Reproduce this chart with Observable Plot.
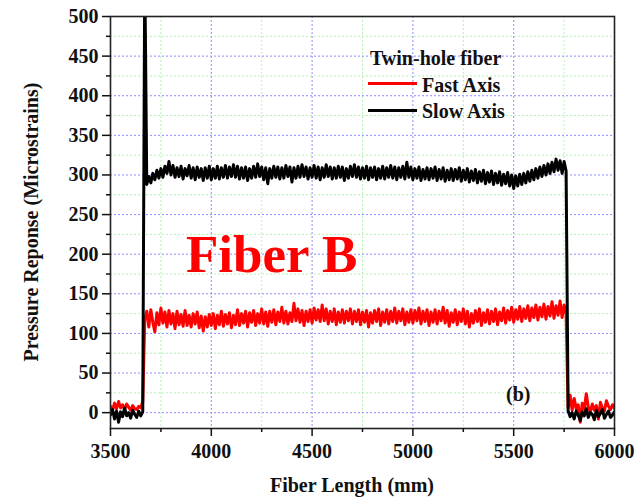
<!DOCTYPE html>
<html>
<head>
<meta charset="utf-8">
<script src="https://cdn.jsdelivr.net/npm/d3@7"></script>
<script src="https://cdn.jsdelivr.net/npm/@observablehq/plot@0.6"></script>
<style>
  html, body { margin: 0; padding: 0; background: white; }
  #wrap { position: relative; width: 643px; height: 499px; overflow: hidden; font-family: "Liberation Serif", "Times New Roman", serif; font-weight: bold; }
  #wrap svg { position: absolute; left: 0; top: 0; }
  .t { position: absolute; line-height: 1; white-space: nowrap; color: #111; }
  .sw { position: absolute; height: 3px; }
</style>
</head>
<body>
<div id="wrap"></div>
<script>
// Fiber length samples (mm)
const fiberLength = [
  3500,3510,3520,3530,3540,3550,3560,3570,3580,3590,
  3600,3610,3620,3630,3640,3650,3660,3670,3680,3690,
  3700,3710,3720,3730,3740,3750,3760,3770,3780,3790,
  3800,3810,3820,3830,3840,3850,3860,3870,3880,3890,
  3900,3910,3920,3930,3940,3950,3960,3970,3980,3990,
  4000,4010,4020,4030,4040,4050,4060,4070,4080,4090,
  4100,4110,4120,4130,4140,4150,4160,4170,4180,4190,
  4200,4210,4220,4230,4240,4250,4260,4270,4280,4290,
  4300,4310,4320,4330,4340,4350,4360,4370,4380,4390,
  4400,4410,4420,4430,4440,4450,4460,4470,4480,4490,
  4500,4510,4520,4530,4540,4550,4560,4570,4580,4590,
  4600,4610,4620,4630,4640,4650,4660,4670,4680,4690,
  4700,4710,4720,4730,4740,4750,4760,4770,4780,4790,
  4800,4810,4820,4830,4840,4850,4860,4870,4880,4890,
  4900,4910,4920,4930,4940,4950,4960,4970,4980,4990,
  5000,5010,5020,5030,5040,5050,5060,5070,5080,5090,
  5100,5110,5120,5130,5140,5150,5160,5170,5180,5190,
  5200,5210,5220,5230,5240,5250,5260,5270,5280,5290,
  5300,5310,5320,5330,5340,5350,5360,5370,5380,5390,
  5400,5410,5420,5430,5440,5450,5460,5470,5480,5490,
  5500,5510,5520,5530,5540,5550,5560,5570,5580,5590,
  5600,5610,5620,5630,5640,5650,5660,5670,5680,5690,
  5700,5710,5720,5730,5740,5750,5760,5770,5780,5790,
  5800,5810,5820,5830,5840,5850,5860,5870,5880,5890,
  5900,5910,5920,5930,5940,5950,5960,5970,5980,5990,
  6000
];

// Fast axis response (microstrains)
const fastAxis = [
  8,3,12,5,14,6,10,4,11,7,
  3,9,5,4,8,6,14,118,128,108,
  130,114,102,126,111,132,113,127,108,129,
  112,125,106,128,111,124,109,129,110,123,
  108,125,112,127,107,122,103,121,108,124,
  110,125,106,123,111,128,109,124,112,126,
  107,123,111,130,110,125,113,128,108,126,
  114,129,110,125,113,131,112,127,109,128,
  114,130,111,127,115,133,113,128,112,126,
  115,138,116,131,114,129,110,128,115,130,
  113,132,117,130,115,136,116,131,112,128,
  115,131,111,127,114,130,113,128,116,131,
  112,128,115,130,111,127,114,129,108,126,
  113,129,115,131,110,127,114,130,112,128,
  115,132,113,128,116,131,111,127,114,130,
  113,129,116,132,112,128,115,130,110,127,
  114,130,112,128,116,133,113,129,109,126,
  114,130,111,127,115,131,112,128,108,125,
  113,129,115,131,110,126,114,130,112,128,
  115,131,111,127,116,132,113,129,117,133,
  114,130,118,134,115,131,119,135,116,132,
  120,136,117,133,121,137,118,134,122,140,
  119,135,123,141,120,136,124,6,22,3,
  18,5,10,-12,12,4,24,7,1,11,
  3,9,-8,13,6,2,15,8,4,10,
  5
];

// Slow axis response (microstrains)
const slowAxis = [
  -3,4,-8,2,-12,1,-5,6,-4,0,
  -7,3,-2,-6,2,-4,1,560,288,298,
  290,302,294,306,296,308,297,311,302,317,
  300,312,297,309,298,311,295,308,299,312,
  296,309,294,310,297,308,293,309,296,311,
  294,308,296,311,295,309,297,312,296,310,
  298,313,297,311,295,309,296,310,293,308,
  296,311,297,314,298,310,294,309,289,308,
  296,311,297,310,295,309,296,312,298,310,
  291,309,296,311,297,313,298,310,295,309,
  297,312,296,310,294,309,297,313,298,310,
  295,309,296,311,297,310,293,308,296,311,
  298,313,297,310,295,309,296,311,294,309,
  297,310,294,308,296,311,295,309,297,312,
  296,310,294,309,297,311,295,316,297,310,
  294,308,296,310,293,307,295,309,294,308,
  296,310,293,307,295,309,292,306,294,308,
  293,307,295,309,292,306,294,308,291,305,
  293,307,290,304,292,306,289,303,291,305,
  288,302,290,304,287,301,289,303,286,300,
  283,299,286,301,288,302,290,304,292,306,
  294,308,296,310,298,312,300,314,302,316,
  304,320,306,318,302,317,305,2,-5,0,
  -8,2,-3,-10,1,-4,5,-6,0,-2,
  -9,3,-5,-1,4,-7,-2,2,-6,-3,
  1
];

const xTicks = [3500, 4000, 4500, 5000, 5500, 6000];
const xMinorTicks = [3750, 4250, 4750, 5250, 5750];
const yTicks = [0, 50, 100, 150, 200, 250, 300, 350, 400, 450, 500];
const yMinorTicks = [25, 75, 125, 175, 225, 275, 325, 375, 425, 475];

const xTitle = "Fiber Length (mm)";
const yTitle = "Pressure Reponse (Microstrains)";
const legendTitle = "Twin-hole fiber";
const seriesNames = ["Fast Axis", "Slow Axis"];
const seriesColors = ["#ff0000", "#000000"];
const bigLabel = "Fiber B";
const panelLabel = "(b)";

const rows = fiberLength.map((len, i) => ({len, fast: fastAxis[i], slow: slowAxis[i]}));

const chart = Plot.plot({
  width: 643,
  height: 499,
  marginLeft: 110,
  marginRight: 29,
  marginTop: 16,
  marginBottom: 71,
  style: {fontFamily: "'Liberation Serif', 'Times New Roman', serif", fontWeight: "bold", fontSize: "20px", background: "white", color: "#111"},
  x: {domain: [3500, 6000]},
  y: {domain: [-20, 500]},
  marks: [
    Plot.gridX(xMinorTicks, {stroke: "#b4f0b4", strokeOpacity: 1, strokeDasharray: "2,2", strokeWidth: 1}),
    Plot.gridY(yMinorTicks, {stroke: "#b4f0b4", strokeOpacity: 1, strokeDasharray: "2,2", strokeWidth: 1}),
    Plot.gridX(xTicks, {stroke: "#8c8cff", strokeOpacity: 1, strokeDasharray: "2,2", strokeWidth: 1}),
    Plot.gridY(yTicks, {stroke: "#8c8cff", strokeOpacity: 1, strokeDasharray: "2,2", strokeWidth: 1}),
    Plot.line(rows, {x: "len", y: "fast", stroke: seriesColors[0], strokeWidth: 3, clip: true}),
    Plot.line(rows, {x: "len", y: "slow", stroke: seriesColors[1], strokeWidth: 3, clip: true}),
    Plot.frame({stroke: "#222", strokeWidth: 1.6}),
    Plot.axisX(xTicks, {tickSize: 8, tickPadding: 7, tickFormat: d3.format("d"), label: null, strokeWidth: 1.5}),
    Plot.axisX(xMinorTicks, {tickSize: 4, tickFormat: () => "", label: null, strokeWidth: 1.5}),
    Plot.axisY(yTicks, {tickSize: 8, tickPadding: 4, tickFormat: d3.format("d"), label: null, strokeWidth: 1.5}),
    Plot.axisY(yMinorTicks, {tickSize: 4, tickFormat: () => "", label: null, strokeWidth: 1.5})
  ]
});

const wrap = document.getElementById("wrap");
wrap.appendChild(chart);

function addText(txt, css) {
  const d = document.createElement("div");
  d.className = "t";
  d.textContent = txt;
  Object.assign(d.style, css);
  wrap.appendChild(d);
  return d;
}
function addSwatch(color, css) {
  const d = document.createElement("div");
  d.className = "sw";
  d.style.background = color;
  Object.assign(d.style, css);
  wrap.appendChild(d);
}

// Axis titles
addText(xTitle, {left: "352px", top: "475px", fontSize: "20px", transform: "translateX(-50%)"});
addText(yTitle, {left: "31px", top: "222px", fontSize: "20px", transform: "translate(-50%, -50%) rotate(-90deg)"});

// Legend
addText(legendTitle, {left: "370px", top: "48px", fontSize: "20px"});
addSwatch(seriesColors[0], {left: "368px", top: "82px", width: "49px"});
addText(seriesNames[0], {left: "422px", top: "75px", fontSize: "20px"});
addSwatch(seriesColors[1], {left: "368px", top: "109px", width: "49px"});
addText(seriesNames[1], {left: "422px", top: "101px", fontSize: "20px"});

// Annotations
addText(bigLabel, {left: "186px", top: "228px", fontSize: "53px", color: "#ff0000"});
addText(panelLabel, {left: "506px", top: "384px", fontSize: "20px"});
</script>
</body>
</html>
